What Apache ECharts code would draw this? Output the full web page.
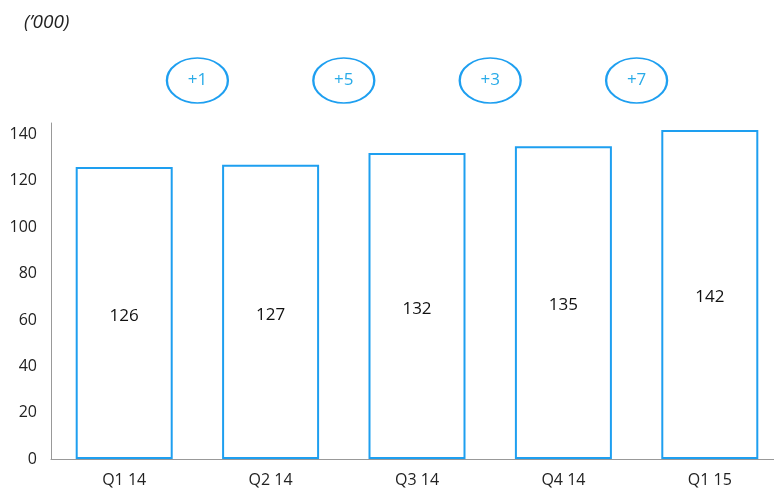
<!DOCTYPE html>
<html>
<head>
<meta charset="utf-8">
<script src="https://cdn.jsdelivr.net/npm/echarts@6/dist/echarts.min.js"></script>
<style>
  html, body { margin: 0; padding: 0; background: #fff; overflow: hidden; }
  /* chart is a bit wider than the window: the last column runs up to the edge */
  #chart { width: 800px; height: 490px; }
</style>
</head>
<body>
<div id="chart"></div>
<script>
// values in thousands
const quarters = ['Q1 14', 'Q2 14', 'Q3 14', 'Q4 14', 'Q1 15']
const totals = [126, 127, 132, 135, 142]
const changes = ['+1', '+5', '+3', '+7']
const yTicks = [0, 20, 40, 60, 80, 100, 120, 140]

const blue = '#1E9FF0'
const font = '"Open Sans", "Noto Sans", sans-serif'

const chart = echarts.init(document.getElementById('chart'))

// bubbles sit between two quarters (boundary index 1..4 on a 0..5 scale)
const changeData = changes.map((label, i) => ({ value: [i + 1, 0.5], label: { formatter: label } }))

chart.setOption({
  animation: false,
  title: {
    text: '(\u2019000)',
    left: 19,
    top: 8,
    textStyle: { fontFamily: font, fontStyle: 'italic', fontWeight: 'normal', fontSize: 19, color: '#222' }
  },
  grid: [
    { left: 51, width: 732, top: 123, bottom: 31 },
    { left: 51, width: 732, top: 58, height: 45 }
  ],
  xAxis: [
    {
      type: 'category',
      data: quarters,
      gridIndex: 0,
      axisLine: { lineStyle: { color: '#999', width: 1 } },
      axisTick: { show: false },
      axisLabel: { fontFamily: font, fontSize: 16, color: '#222', margin: 13 }
    },
    { type: 'value', gridIndex: 1, min: 0, max: 5, show: false }
  ],
  yAxis: [
    {
      type: 'value',
      gridIndex: 0,
      min: 0,
      max: 145,
      interval: 20,
      splitLine: { show: false },
      axisTick: { show: false },
      axisLine: { show: true, lineStyle: { color: '#999', width: 1 } },
      axisLabel: {
        fontFamily: font,
        fontSize: 16,
        color: '#222',
        margin: 14,
        formatter: v => (yTicks.includes(v) ? String(v) : '')
      }
    },
    { type: 'value', gridIndex: 1, min: 0, max: 1, show: false }
  ],
  series: [
    {
      type: 'bar',
      data: totals,
      xAxisIndex: 0,
      yAxisIndex: 0,
      barWidth: 97,
      itemStyle: { color: '#fff', borderColor: blue, borderWidth: 2 },
      label: {
        show: true,
        position: 'inside',
        offset: [0, 3],
        fontFamily: font,
        fontSize: 17,
        color: '#111'
      }
    },
    {
      type: 'scatter',
      data: changeData,
      xAxisIndex: 1,
      yAxisIndex: 1,
      symbol: 'circle',
      symbolSize: [61, 45],
      itemStyle: { color: '#fff', borderColor: blue, borderWidth: 2, opacity: 1 },
      label: {
        show: true,
        position: 'inside',
        fontFamily: font,
        fontSize: 17,
        color: '#29ABE8'
      },
      emphasis: { disabled: true }
    }
  ]
})
</script>
</body>
</html>
